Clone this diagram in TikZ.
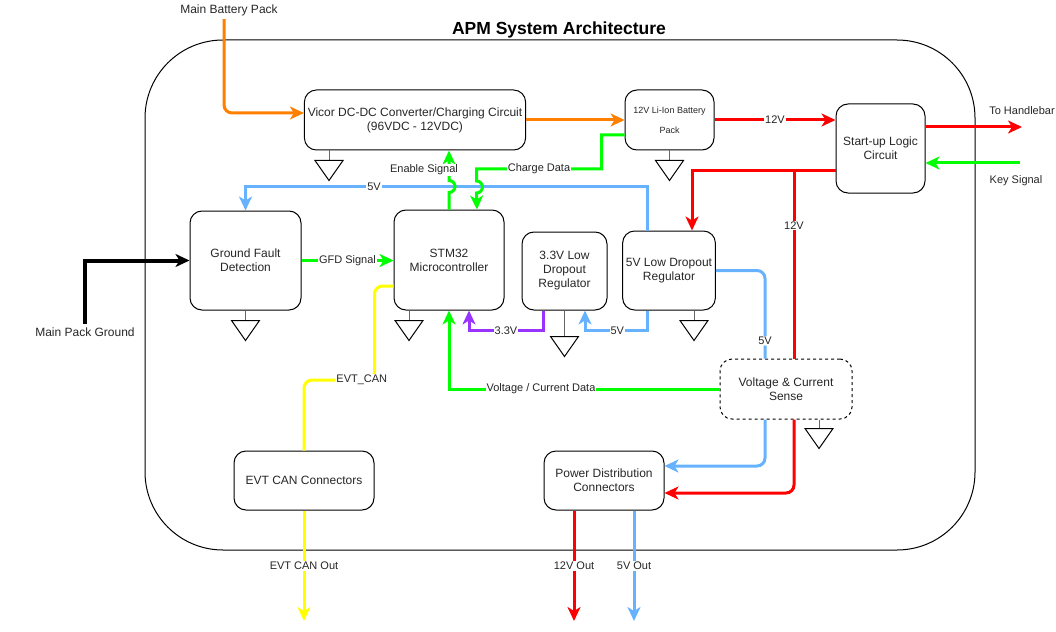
\documentclass[tikz,border=0pt]{standalone}
\usepackage{fontspec}
\setmainfont{Liberation Sans}
\usetikzlibrary{arrows.meta, positioning}
\definecolor{pwrorange}{HTML}{FF8000}
\definecolor{pwrred}{HTML}{FF0000}
\definecolor{siggreen}{HTML}{00FF00}
\definecolor{pwrblue}{HTML}{66B2FF}
\definecolor{pwrpurple}{HTML}{9933FF}
\definecolor{canyellow}{HTML}{FFFF00}
\tikzstyle{block}=[draw, line width=1pt, rounded corners=12pt, align=center,
  text=black!85, font=\fontsize{12}{14}\selectfont]
\tikzstyle{lbl}=[fill=white, inner sep=1pt, text=black!85, font=\fontsize{11}{13}\selectfont]
\tikzstyle{ext}=[text=black!85, font=\fontsize{12}{14}\selectfont]
\tikzstyle{wire}=[line width=3pt]
\tikzset{pics/gnd/.style={code={
  \draw[line width=1pt, black!60] (0,0) -- (0,#1);
  \draw[line width=1pt] (-14,#1) -- (14,#1) -- (0,#1+20) -- cycle;}}}

\begin{document}
\begin{tikzpicture}[x=1pt, y=-1pt, >={Stealth[length=14pt, width=13pt, inset=4pt]}]
    \useasboundingbox (0,0) rectangle (1056,631);
    \draw[line width=1pt, rounded corners=78pt] (145,40) rectangle (975,550);
    \node[font=\bfseries\fontsize{17.5}{20}\selectfont] (title) at (559,30) {APM System Architecture};

    \node[block, minimum width=220pt, minimum height=60pt] (vicor) at (415,120)
      {Vicor DC-DC Converter/Charging Circuit\\(96VDC - 12VDC)};
    \node[block, minimum width=89pt, minimum height=60pt, font=\fontsize{9}{20}\selectfont] (batt) at (669.5,120)
      {12V Li-Ion Battery\\Pack};
    \node[block, minimum width=89pt, minimum height=89pt] (start) at (880.5,148.5) {Start-up Logic\\Circuit};
    \node[block, minimum width=111pt, minimum height=99pt] (gfd) at (245.5,260.5) {Ground Fault\\Detection};
    \node[block, minimum width=110pt, minimum height=100pt] (stm) at (449,260) {STM32\\Microcontroller};
    \node[block, minimum width=85pt, minimum height=78pt] (ldo3) at (564.5,271) {3.3V Low\\Dropout\\Regulator};
    \node[block, minimum width=90pt, minimum height=79pt] (ldo5) at (669,270.5) {5V Low Dropout\\Regulator};
    \node[block, dashed, minimum width=132pt, minimum height=60pt] (vcs) at (786,389) {Voltage \& Current\\Sense};
    \node[block, minimum width=120pt, minimum height=59pt] (pdc) at (604,480.5) {Power Distribution\\Connectors};
    \node[block, minimum width=140pt, minimum height=59pt] (evt) at (304,480.5) {EVT CAN Connectors};

    \node[ext] (mbp) at (229,10) {Main Battery Pack};
    \node[ext] (mpg) at (85,332) {Main Pack Ground};
    \node[ext, font=\fontsize{11}{13}\selectfont] (hb) at (1022,111) {To Handlebar};
    \node[ext, font=\fontsize{11}{13}\selectfont] (ks) at (1016,181) {Key Signal};
    \coordinate (hbend) at (1022,127);
    \coordinate (ksin) at (1020,163);
    \coordinate (j12) at (794,171);
    \coordinate (evtend) at (304,621);
    \coordinate (out12end) at (574,621);
    \coordinate (out5end) at (634,621);

    \foreach \n/\dx/\len in {vicor/-86/10, batt/0/10, gfd/0/10, stm/-40/10, ldo3/0/26, ldo5/25/10, vcs/33/9}
      \pic at ([xshift=\dx pt]\n.south) {gnd=\len};

    \draw[wire, pwrorange, rounded corners=8pt, ->] ([xshift=-5pt]mbp.south) |- ([yshift=7pt]vicor.west);
    \draw[wire, pwrorange, ->] (vicor.east) -- (batt.west);
    \draw[wire, pwrred, ->] (batt.east) -- node[lbl] {12V} (batt.east -| start.west);
    \draw[wire, pwrred, ->] (start.east |- hbend) -- (hbend);
    \draw[wire, siggreen, ->] (ksin) -- (ksin -| start.east);
    \draw[wire, pwrred, ->] (start.west |- j12) -| ([xshift=23pt]ldo5.north);
    \draw[wire, pwrred] (j12) -- node[lbl, pos=0.29] {12V} (vcs.north -| j12);
    \draw[wire, pwrred, rounded corners=8pt, ->] (vcs.south -| j12) |- ([yshift=-12.5pt]pdc.east);
    \draw[wire, pwrblue, rounded corners=8pt] (ldo5.east) -| node[lbl, pos=0.9] {5V} ([xshift=-21pt]vcs.north);
    \draw[wire, pwrblue, rounded corners=8pt, ->] ([xshift=-21pt]vcs.south) |- ([yshift=14.5pt]pdc.east);
    \draw[wire, siggreen, ->] (vcs.west) -| node[lbl, pos=0.33] {Voltage / Current Data} (stm.south);
    \draw[wire, pwrpurple, ->] ([xshift=-21.5pt]ldo3.south) -- ++(0,20)
      -| node[lbl, pos=0.25] {3.3V} ([xshift=20pt]stm.south);
    \draw[wire, pwrblue, ->] ([xshift=-22pt]ldo5.south) -- ++(0,20)
      -| node[lbl, pos=0.24] {5V} ([xshift=20.5pt]ldo3.south);
    \draw[wire, pwrblue, ->] ([xshift=-22pt]ldo5.north) -- ++(0,-44)
      -| node[lbl, pos=0.34] {5V} (gfd.north);
    \draw[wire, siggreen, ->] (stm.north) -- ++(0,-17) arc[start angle=90, end angle=-90, radius=6]
      -- node[lbl, pos=0.35, xshift=-25pt] {Enable Signal} (vicor.south -| stm.north);
    \draw[wire, siggreen, ->] ([yshift=-15pt]batt.west) -- ++(-23,0) -- ++(0,34)
      -- node[lbl] {Charge Data} ++(-125,0) -- ++(0,12) arc[start angle=-90, end angle=90, radius=6]
      -- ([xshift=28pt]stm.north);
    \draw[wire, siggreen, ->] (gfd.east) -- node[lbl] {GFD Signal} (stm.west |- gfd.east);
    \draw[wire, line width=4pt, black, ->] (mpg.north) |- (gfd.west);
    \draw[wire, canyellow, rounded corners=8pt] ([yshift=-26pt]stm.west) -| ++(-19,94)
      -| node[lbl, pos=0.09] {EVT\_CAN} (evt.north);
    \draw[wire, canyellow, ->] (evt.south) -- node[lbl] {EVT CAN Out} (evtend);
    \draw[wire, pwrred, ->] ([xshift=-30pt]pdc.south) -- node[lbl] {12V Out} (out12end);
    \draw[wire, pwrblue, ->] ([xshift=30pt]pdc.south) -- node[lbl] {5V Out} (out5end);
\end{tikzpicture}
\end{document}
